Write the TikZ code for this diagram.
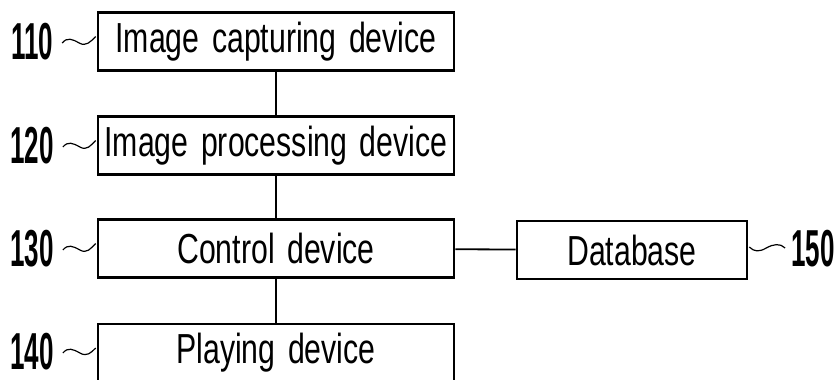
\documentclass[tikz,border=0pt]{standalone}
\usepackage{fontspec}
\setmainfont{Liberation Sans}[FakeStretch=0.72, WordSpace=1.5]
\newfontfamily\numfont{Liberation Sans}[FakeStretch=0.5]
\usepackage{tikz}
\usetikzlibrary{positioning, calc}

\begin{document}
\begin{tikzpicture}[
		x=1pt, y=-1pt,
		block/.style={rectangle, draw=black, line width=2.6pt, minimum width=356pt, minimum height=58pt, inner sep=0pt, font=\fontsize{42}{46}\selectfont},
		refnum/.style={inner sep=0pt, font=\numfont\bfseries\fontsize{52}{56}\selectfont},
		link/.style={line width=1.8pt},
		leader/.style={line width=1.2pt},
		]
		\useasboundingbox (0,0) rectangle (839,380);
		\clip (0,0) rectangle (839,380);
		
		% ---- main chain ----
		\node[block] (cap)  at (276,41.5)  {Image capturing device};
		\node[block] (proc) at (276,145.5) {Image processing device};
		\node[block] (ctrl) at (276,248.5) {Control device};
		\node[block] (play) at (276,353)   {Playing device};
		\node[block, minimum width=230pt] (db) at (632,250) {Database};
		
		\draw[link] (cap) -- (proc);
		\draw[link] (proc) -- (ctrl);
		\draw[link] (ctrl) -- (play);
		\draw[link] (ctrl) -- (db);
		
		% ---- reference numerals ----
		\node[refnum] (n110) at (32,42)  {110};
		\node[refnum] (n120) at (32,146) {120};
		\node[refnum] (n130) at (32,249) {130};
		\node[refnum] (n140) at (32,352) {140};
		\node[refnum] (n150) at (813,249) {150};
		
		\foreach \num/\blk in {110/cap, 120/proc, 130/ctrl, 140/play}{
			\draw[leader] ($(n\num.east)+(9,1)$) .. controls +(5,-6) and +(-7,-4) .. +(17,0)
				.. controls +(7,4) and +(-5,5) .. ($(\blk.west)+(-1,-5)$);
		}
		\draw[leader] ($(db.east)+(1,-3)$) .. controls +(5,5) and +(-7,4) .. +(17,1)
			.. controls +(7,-4) and +(-5,-5) .. ($(n150.west)+(-6,-1)$);
		
\end{tikzpicture}
\end{document}
